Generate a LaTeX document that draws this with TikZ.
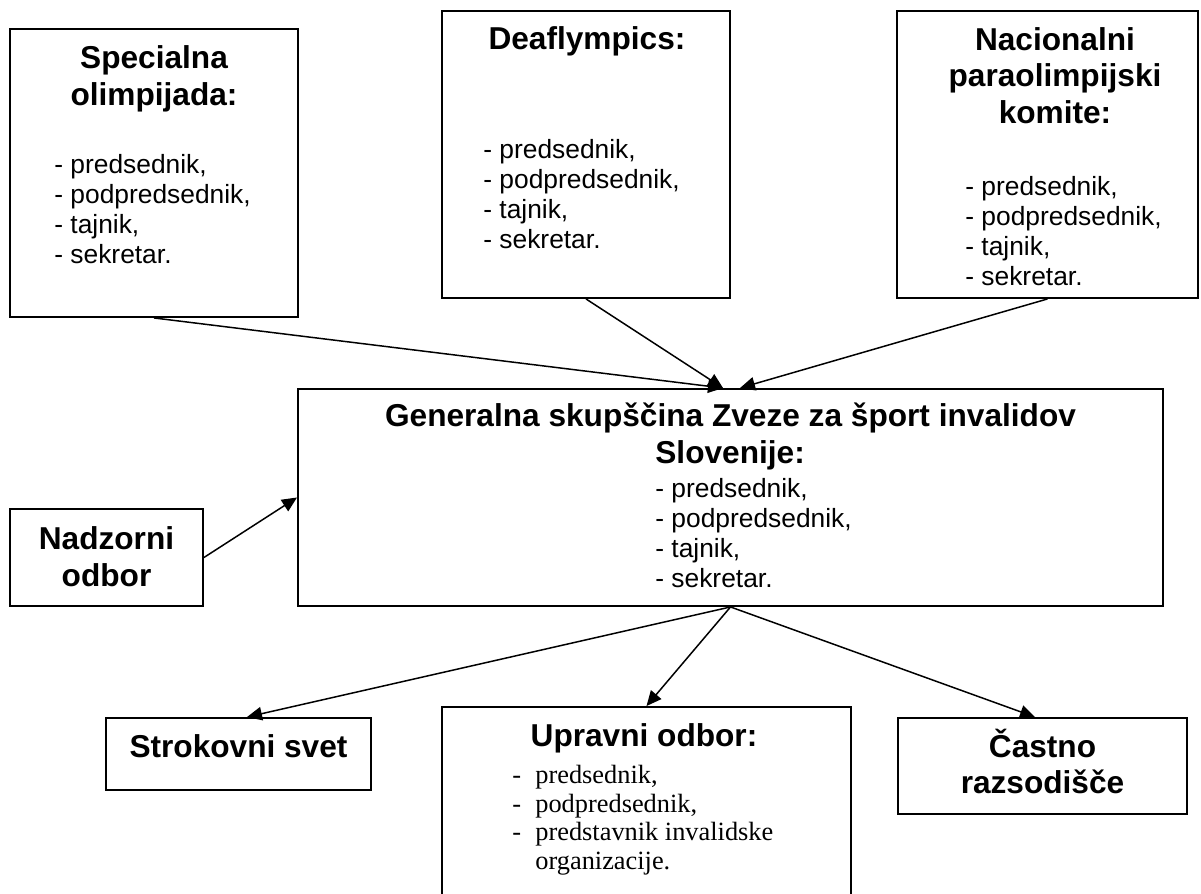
\documentclass[tikz,border=0pt]{standalone}
\usepackage{fontspec}
\setmainfont{Liberation Sans}
\newfontfamily\timesfont{Liberation Serif}
\usetikzlibrary{arrows.meta, calc}
\tikzset{
        org-box/.style={
            draw, rectangle, inner sep=0pt, line width=1.1pt
        },
        box-title/.style={
            font=\bfseries\fontsize{18}{20.5}\selectfont, align=center, inner sep=0pt, anchor=base
        },
        box-list/.style={
            font=\fontsize{15}{16.9}\selectfont, align=left, inner sep=0pt, anchor=base west
        },
        org-arrow/.style={
            line width=0.85pt, -{Triangle[length=0.3cm, width=0.27cm]}
        },
}
\newcommand{\officerlist}{- predsednik,\\- podpredsednik,\\- tajnik,\\- sekretar.}
\newcommand{\dashitem}[1]{\makebox[0.46cm][l]{-}#1}

\begin{document}
\begin{tikzpicture}

        \useasboundingbox (0,0) rectangle (24.02,17.88);

        %DRAW BOXES (at coordinates, the texts go relative to them)
        \node [org-box, minimum width=5.76cm,  minimum height=5.76cm] (SPEC) at (3.08,14.42)  {};
        \node [org-box, minimum width=5.76cm,  minimum height=5.74cm] (DEAF) at (11.72,14.79) {};
        \node [org-box, minimum width=6.02cm,  minimum height=5.74cm] (NPK)  at (20.95,14.79) {};
        \node [org-box, minimum width=17.30cm, minimum height=4.34cm] (GEN)  at (14.61,7.93)  {};
        \node [org-box, minimum width=3.86cm,  minimum height=1.94cm] (NAD)  at (2.13,6.73)   {};
        \node [org-box, minimum width=5.30cm,  minimum height=1.44cm] (STRO) at (4.77,2.80)   {};
        \node [org-box, minimum width=8.18cm,  minimum height=3.94cm] (UPR)  at (12.93,1.77)  {};
        \node [org-box, minimum width=5.78cm,  minimum height=1.92cm] (CAST) at (20.85,2.56)  {};

        %DRAW TEXTS (the offsets give the baseline of the last line)
        \node [box-title] (SPECT) at ($(SPEC.north)+(0,-1.54)$)            {Specialna\\olimpijada:};
        \node [box-list]  (SPECL) at ($(SPEC.north west)+(0.90,-4.70)$)    {\officerlist};
        \node [box-title] (DEAFT) at ($(DEAF.north)+(0.02,-0.78)$)         {Deaflympics:};
        \node [box-list]  (DEAFL) at ($(DEAF.north west)+(0.84,-4.76)$)    {\officerlist};
        \node [box-title] (NPKT)  at ($(NPK.north)+(0.15,-2.26)$)          {Nacionalni\\paraolimpijski\\komite:};
        \node [box-list]  (NPKL)  at ($(NPK.north west)+(1.38,-5.50)$)     {\officerlist};
        \node [box-title] (GENT)  at ($(GEN.north)+(0,-0.76)$)             {Generalna skupščina Zveze za šport invalidov};
        \node [box-title, anchor=base west] (GENS) at ($(GEN.north west)+(7.16,-1.50)$) {Slovenije:};
        \node [box-list]  (GENL)  at ($(GEN.north west)+(7.16,-3.98)$)     {\officerlist};
        \node [box-title] (NADT)  at ($(NAD.north)+(0,-1.56)$)             {Nadzorni\\odbor};
        \node [box-title] (STROT) at ($(STRO.north)+(0,-0.80)$)            {Strokovni svet};
        \node [box-title] (UPRT)  at ($(UPR.north)+(-0.05,-0.80)$)         {Upravni odbor:};
        \node [box-list, font=\timesfont\fontsize{15}{16.2}\selectfont] (UPRL) at ($(UPR.north west)+(1.42,-3.26)$)
              {\dashitem{predsednik,}\\\dashitem{podpredsednik,}\\\dashitem{predstavnik invalidske}\\\hspace*{0.46cm}organizacije.};
        \node [box-title] (CASTT) at ($(CAST.north)+(0,-1.52)$)            {Častno\\razsodišče};

        % CONNECT TO GENERALNA SKUPSCINA
        \draw [org-arrow] (SPEC.south) -- ($(GEN.north)+(-0.15,0)$);
        \draw [org-arrow] (DEAF.south) -- ($(GEN.north)+(-0.15,0)$);
        \draw [org-arrow] (NPK.south)  -- ($(GEN.north)+(0.19,0)$);
        \draw [org-arrow] (NAD.east)   -- (GEN.west);

        % CONNECT TO BOTTOM BOXES
        \draw [org-arrow] (GEN.south) -- ($(STRO.north)+(0.17,0)$);
        \draw [org-arrow] (GEN.south) -- (UPR.north);
        \draw [org-arrow] (GEN.south) -- ($(CAST.north)+(-0.15,0)$);

\end{tikzpicture}
\end{document}
